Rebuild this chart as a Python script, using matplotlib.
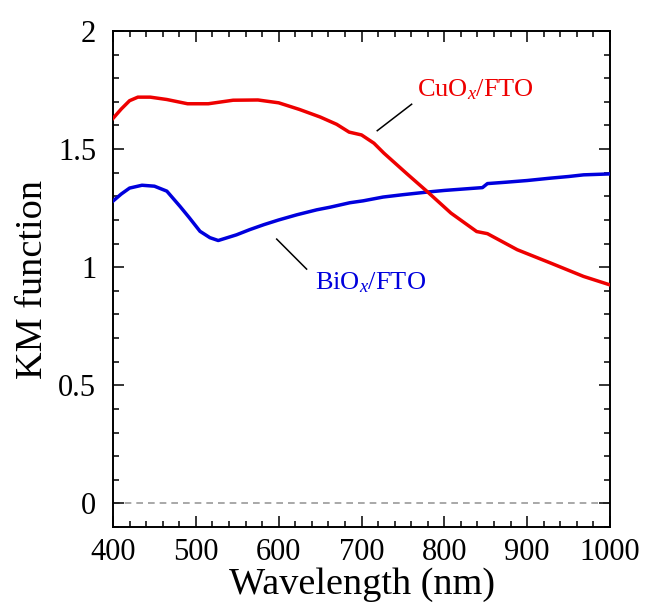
import numpy as np
import matplotlib
matplotlib.use("Agg")
import matplotlib.pyplot as plt
from matplotlib.ticker import MultipleLocator

# CuOx/FTO
cu_wl = [400, 410, 420, 430, 445, 465, 490, 515, 545, 575, 600, 625, 650, 670,
         685, 700, 715, 727, 755, 780, 808, 839, 852, 870, 888, 928, 968, 1000]
cu_km = [1.63, 1.67, 1.705, 1.72, 1.72, 1.71, 1.692, 1.692, 1.707, 1.708, 1.696,
         1.668, 1.636, 1.605, 1.572, 1.560, 1.525, 1.483, 1.395, 1.318, 1.229,
         1.151, 1.142, 1.108, 1.074, 1.018, 0.961, 0.925]

# BiOx/FTO
bi_wl = [400, 410, 420, 435, 450, 465, 481, 492, 505, 517, 527, 549, 565, 582,
         600, 622, 646, 662, 686, 702, 726, 750, 779, 800, 846, 852, 875, 900,
         928, 950, 968, 1000]
bi_km = [1.28, 1.31, 1.335, 1.347, 1.343, 1.322, 1.257, 1.21, 1.152, 1.125, 1.113,
         1.137, 1.159, 1.180, 1.200, 1.222, 1.243, 1.254, 1.273, 1.281, 1.297,
         1.307, 1.318, 1.325, 1.337, 1.354, 1.360, 1.367, 1.377, 1.384, 1.391, 1.395]

plt.rcParams['font.family'] = ['Liberation Serif', 'DejaVu Serif']
plt.rcParams['mathtext.fontset'] = 'custom'
plt.rcParams['mathtext.it'] = 'Liberation Serif:italic'
plt.rcParams['mathtext.rm'] = 'Liberation Serif'

fig = plt.figure(figsize=(6.48, 6.07), dpi=100)
ax = fig.add_axes([0.1744, 0.1318, 0.767, 0.8171])

ax.axhline(0, color='#999999', lw=1.2, ls=(0, (4, 3)), zorder=1)
ax.plot(bi_wl, bi_km, color='#0000dd', lw=2.5, zorder=3)
ax.plot(cu_wl, cu_km, color='#ee0000', lw=2.5, zorder=3)

# label leader lines
ax.plot([719, 760.5], [1.578, 1.690], color='black', lw=1.1)
ax.plot([597.6, 633.7], [1.119, 0.992], color='black', lw=1.1)
ax.text(838, 1.722, r'CuO$_{\mathit{x}}$/FTO', color='#ee0000', fontsize=19,
        ha='center', va='baseline')
ax.text(711, 0.905, r'BiO$_{\mathit{x}}$/FTO', color='#0000dd', fontsize=19,
        ha='center', va='baseline')

ax.set_xlim(400, 1000)
ax.set_ylim(-0.1, 2)
ax.xaxis.set_major_locator(MultipleLocator(100))
ax.xaxis.set_minor_locator(MultipleLocator(20))
ax.yaxis.set_major_locator(MultipleLocator(0.5))
ax.yaxis.set_minor_locator(MultipleLocator(0.1))
ax.set_yticks([0, 0.5, 1, 1.5, 2])
ax.set_yticklabels(['0', '0.5', '1', '1.5', '2'])

ax.tick_params(which='both', direction='in', top=True, right=True,
               labelsize=22, width=1.1)
ax.tick_params(axis='y', pad=12)
ax.tick_params(axis='x', pad=8)
ax.tick_params(which='major', length=8)
ax.tick_params(which='minor', length=4)
for s in ax.spines.values():
    s.set_linewidth(1.4)

ax.set_xlabel('Wavelength (nm)', fontsize=27.5, labelpad=0)
ax.set_ylabel('KM function', fontsize=27.5, labelpad=6)

fig.savefig('out.png', dpi=100)
